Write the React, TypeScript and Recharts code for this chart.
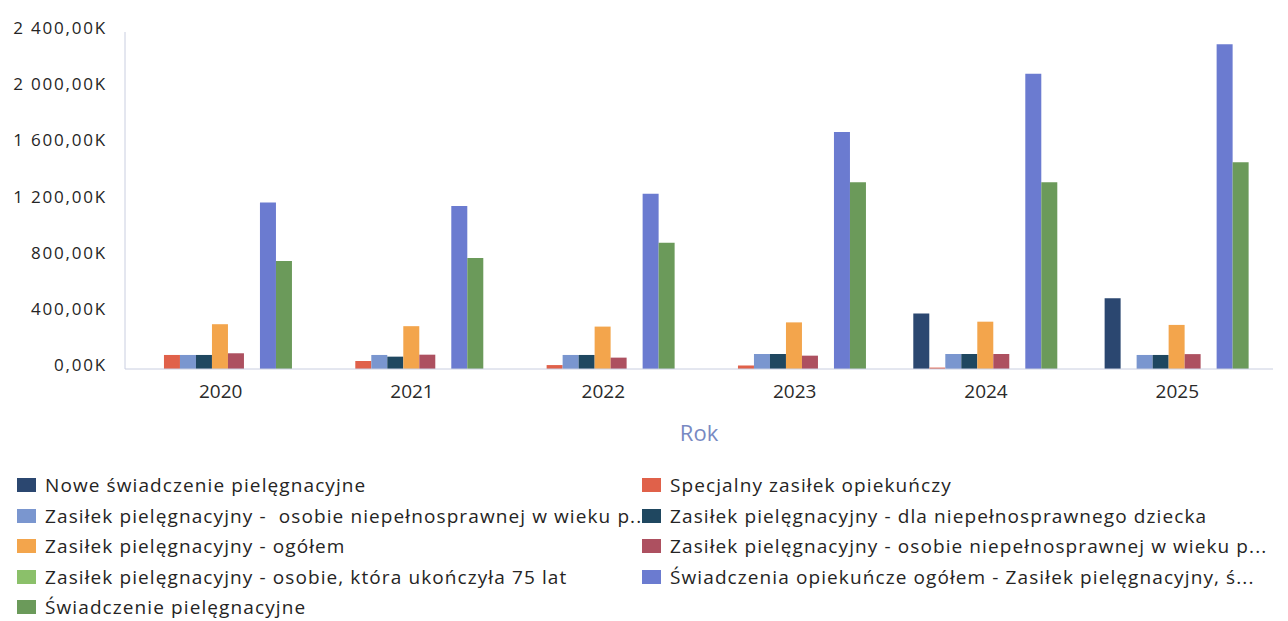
import React from "react"
import { BarChart, Bar, XAxis, YAxis } from "recharts"

// lata
const years = ["2020", "2021", "2022", "2023", "2024", "2025"]

// wartości w tys.
const nowe = [null, null, null, null, 396, 503]
const specjalny = [100, 57, 28, 25, 10, 0]
const zpOsobieA = [100, 100, 100, 107, 107, 100]
const zpDziecko = [100, 88, 100, 107, 107, 100]
const zpOgolem = [319, 305, 302, 332, 337, 314]
const zpOsobieB = [112, 102, 81, 95, 107, 106]
const zp75 = [null, null, null, null, null, null]
const opiekuncze = [1186, 1160, 1248, 1687, 2103, 2312]
const pielegnacyjne = [770, 790, 900, 1330, 1330, 1473]

const yTicks = [0, 400, 800, 1200, 1600, 2000, 2400]

const series = [
  { key: "nowe", name: "Nowe świadczenie pielęgnacyjne", color: "#2b4770", values: nowe },
  { key: "specjalny", name: "Specjalny zasiłek opiekuńczy", color: "#e0614a", values: specjalny },
  { key: "zpOsobieA", name: "Zasiłek pielęgnacyjny -  osobie niepełnosprawnej w wieku p..", color: "#7a96cf", values: zpOsobieA },
  { key: "zpDziecko", name: "Zasiłek pielęgnacyjny - dla niepełnosprawnego dziecka", color: "#1f4760", values: zpDziecko },
  { key: "zpOgolem", name: "Zasiłek pielęgnacyjny - ogółem", color: "#f3a54c", values: zpOgolem },
  { key: "zpOsobieB", name: "Zasiłek pielęgnacyjny - osobie niepełnosprawnej w wieku p...", color: "#ad5060", values: zpOsobieB },
  { key: "zp75", name: "Zasiłek pielęgnacyjny - osobie, która ukończyła 75 lat", color: "#8bc06a", values: zp75 },
  { key: "opiekuncze", name: "Świadczenia opiekuńcze ogółem - Zasiłek pielęgnacyjny, ś...", color: "#6b7bd0", values: opiekuncze },
  { key: "pielegnacyjne", name: "Świadczenie pielęgnacyjne", color: "#6b9a5a", values: pielegnacyjne },
]

const data = years.map((year, i) => {
  const row: Record<string, any> = { year }
  series.forEach((s) => {
    row[s.key] = s.values[i]
  })
  return row
})

const fmt = (v: number) => {
  const whole = Math.floor(v)
  const s = String(whole).replace(/\B(?=(\d{3})+(?!\d))/g, " ")
  return `${s},00K`
}

const font = "'Open Sans', sans-serif"

export default function App() {
  return (
    <div style={{ position: "absolute", left: 0, top: 0, width: 1288, height: 621, background: "#fff", fontFamily: font }}>
      <BarChart
        width={1288}
        height={460}
        data={data}
        margin={{ top: 32, right: 15, left: 0, bottom: 0 }}
        barCategoryGap="12%"
        barGap={0}
      >
        <XAxis
          dataKey="year"
          height={91}
          tickLine={false}
          tickSize={0}
          tickMargin={16}
          stroke="#c9cee0"
          tick={{ fontSize: 19, fill: "#2a2a2a", fontFamily: font }}
          label={{ value: "Rok", position: "insideBottom", offset: 19, fill: "#7889c2", fontSize: 22, fontFamily: font }}
        />
        <YAxis
          width={125}
          domain={[0, 2400]}
          ticks={yTicks}
          tickFormatter={fmt}
          tickLine={false}
          tickSize={0}
          tickMargin={18}
          stroke="#c9cee0"
          tick={{ fontSize: 17, fill: "#252525", fontFamily: font, letterSpacing: 1.8, dy: -4 }}
        />
        {series.map((s) => (
          <Bar key={s.key} dataKey={s.key} name={s.name} fill={s.color} isAnimationActive={false} />
        ))}
      </BarChart>
      {series.map((s, i) => {
        const col = i % 2
        const row = Math.floor(i / 2)
        return (
          <div
            key={s.key}
            style={{
              position: "absolute",
              left: col === 0 ? 17 : 642,
              top: 485 + row * 30.5 - 13,
              height: 26,
              display: "flex",
              alignItems: "center",
              whiteSpace: "pre",
            }}
          >
            <span style={{ display: "inline-block", width: 19, height: 14, background: s.color, marginRight: 9 }} />
            <span style={{ fontSize: 19, letterSpacing: 1.1, color: "#252423" }}>{s.name}</span>
          </div>
        )
      })}
    </div>
  )
}
